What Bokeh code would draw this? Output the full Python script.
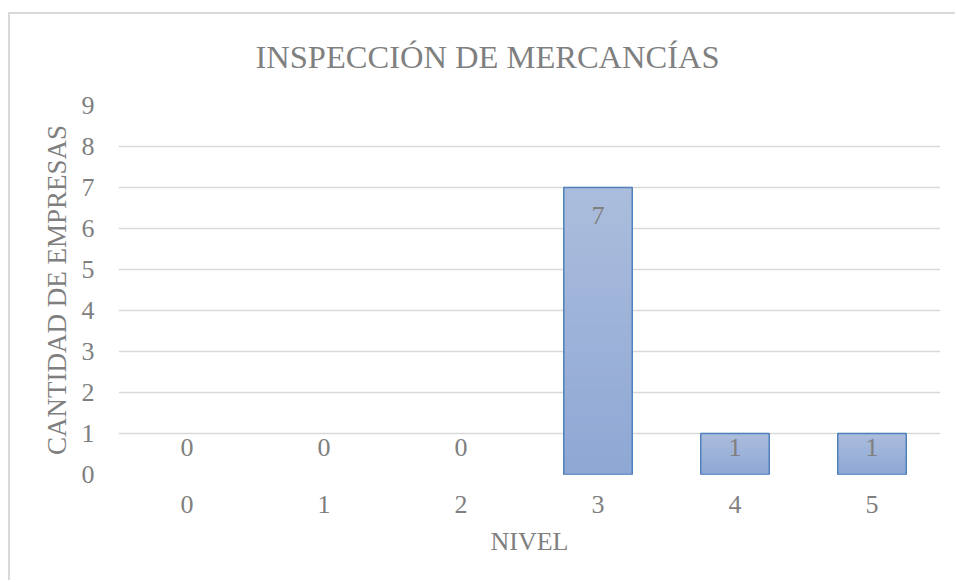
import numpy as np
from bokeh.plotting import figure
from bokeh.models import ColumnDataSource, FactorRange, Range1d, FixedTicker
from bokeh.embed import file_html
from bokeh.resources import INLINE

# Data
niveles = ["0", "1", "2", "3", "4", "5"]
empresas = [0, 0, 0, 7, 1, 1]
y_ticks = [0, 1, 2, 3, 4, 5, 6, 7, 8, 9]

titulo = "INSPECCIÓN DE MERCANCÍAS"
etiqueta_x = "NIVEL"
etiqueta_y = "CANTIDAD DE EMPRESAS"

FONT = "Liberation Serif"
TEXT = "#7F7F7F"
GRID = "#D9D9D9"
EDGE = "#4F81BD"
TOP_RGB = np.array([171, 189, 220])
BOT_RGB = np.array([142, 167, 212])
BAR_W = 0.5

p = figure(
    x_range=FactorRange(*niveles, range_padding=0),
    y_range=Range1d(0, 9),
    width=947, height=568,
    min_border_left=108, min_border_right=17,
    min_border_top=91, min_border_bottom=108,
    output_backend="svg", toolbar_location=None,
)
p.margin = (12, 0, 0, 8)
p.styles = {"border-left": "2px solid #D9D9D9", "border-top": "2px solid #D9D9D9"}
p.outline_line_color = None
p.background_fill_color = "white"
p.border_fill_color = "white"

# Chart title, centred over the whole chart area rather than the plot frame
p.title.text = titulo
p.title.align = "left"
p.title.offset = 137
p.title.vertical_align = "bottom"
p.title.standoff = 0
p.title.padding = dict(left=0, right=0, top=0, bottom=31)
p.title.text_font = FONT
p.title.text_font_size = "32.5px"
p.title.text_font_style = "normal"
p.title.text_color = TEXT

# Vertical gradient for each bar: nested fills from the full bar down,
# each a shade darker, so no seams show between bands
N = 40
sx, st, sc = [], [], []
for cat, v in zip(niveles, empresas):
    if v <= 0:
        continue
    for i in range(N):
        frac = (N - i) / N
        t = frac - 0.5 / N
        rgb = BOT_RGB + (TOP_RGB - BOT_RGB) * t
        sx.append(cat)
        st.append(v * frac)
        sc.append("#%02x%02x%02x" % tuple(int(round(c)) for c in rgb))
p.vbar(x=sx, bottom=0, top=st, width=BAR_W, fill_color=sc, line_color=None)

# Bar outlines (only bars with a height)
nz = [(c, v) for c, v in zip(niveles, empresas) if v > 0]
p.vbar(x=[c for c, _ in nz], top=[v for _, v in nz], bottom=0, width=BAR_W,
       fill_color=None, line_color=EDGE, line_width=1.5)

# Value labels, inside the bar end (kept above the baseline for short bars)
src = ColumnDataSource(dict(
    nivel=niveles,
    txt=[str(v) for v in empresas],
    ypos=[max(v - 0.68, 0.66) for v in empresas],
))
p.text(x="nivel", y="ypos", text="txt", source=src,
       text_align="center", text_baseline="middle",
       text_font=FONT, text_font_size="26px", text_color=TEXT)

# Axes
p.yaxis.ticker = FixedTicker(ticks=y_ticks)
for ax in (p.xaxis[0], p.yaxis[0]):
    ax.axis_line_color = None
    ax.major_tick_line_color = None
    ax.minor_tick_line_color = None
    ax.major_tick_out = 0
    ax.major_label_text_font = FONT
    ax.major_label_text_font_size = "26px"
    ax.major_label_text_color = TEXT
    ax.axis_label_text_font = FONT
    ax.axis_label_text_font_style = "normal"
    ax.axis_label_text_color = TEXT
p.xaxis.axis_label = etiqueta_x
p.yaxis.axis_label = etiqueta_y
p.xaxis.axis_label_text_font_size = "26px"
p.yaxis.axis_label_text_font_size = "27px"
p.yaxis.major_label_standoff = 24
p.xaxis.major_label_standoff = 21
p.yaxis.axis_label_standoff = 7
p.xaxis.axis_label_standoff = 11

p.xgrid.grid_line_color = None
p.ygrid.grid_line_color = GRID
p.ygrid.grid_line_width = 1.5

open("out.html", "w").write(file_html(p, INLINE))
